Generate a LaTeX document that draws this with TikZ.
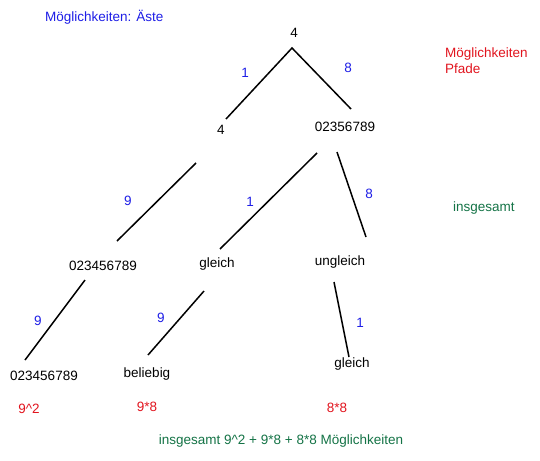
\documentclass[tikz,border=0pt]{standalone}
\usepackage{fontspec}
\setmainfont{Liberation Sans}
\definecolor{cblue}{RGB}{30,30,230}
\definecolor{cred}{RGB}{225,20,30}
\definecolor{cgreen}{RGB}{20,115,70}
\begin{document}
\begin{tikzpicture}[x=1pt,y=-1pt,
  every node/.style={inner sep=0pt,font=\fontsize{13.5}{16}\selectfont},
  lbl/.style={text=black},
  num/.style={text=cblue},
  res/.style={text=cred},
  tot/.style={text=cgreen},
  branch/.style={draw=black,line width=1.5pt}]
\useasboundingbox (0,0) rectangle (540,460);
% titles
\node[num,anchor=west] (tA) at (45,17) {Möglichkeiten: Äste};
\node[res,anchor=west,align=left] (tP) at (445,61) {Möglichkeiten\\Pfade};
\node[tot,anchor=west] (tI) at (453,208) {insgesamt};
% tree labels
\node[lbl] (r) at (294,33) {4};
\node[lbl] (a) at (221,130) {4};
\node[lbl] (b) at (345,127) {02356789};
\node[lbl] (c) at (103,266) {023456789};
\node[lbl] (d) at (217,264) {gleich};
\node[lbl] (e) at (340,262) {ungleich};
\node[lbl] (f) at (44,376) {023456789};
\node[lbl] (g) at (147,374) {beliebig};
\node[lbl] (h) at (352,364) {gleich};
% branch endpoints
\coordinate (r0) at (292,48);
\coordinate (a1) at (226,119);
\coordinate (b1) at (351,109);
\coordinate (a0) at (196,163);
\coordinate (c1) at (117,241);
\coordinate (b0) at (317,153);
\coordinate (d1) at (220,249);
\coordinate (b2) at (337,152);
\coordinate (e1) at (366,237);
\coordinate (c0) at (85,280);
\coordinate (f1) at (25,360);
\coordinate (d0) at (204,291);
\coordinate (g1) at (148,355);
\coordinate (e0) at (334,282);
\coordinate (h1) at (349,357);
\draw[branch] (a1) -- (r0) -- (b1);
\draw[branch] (a0) -- (c1);
\draw[branch] (b0) -- (d1);
\draw[branch] (b2) -- (e1);
\draw[branch] (c0) -- (f1);
\draw[branch] (d0) -- (g1);
\draw[branch] (e0) -- (h1);
% branch counts
\node[num] (n1) at (245,73) {1};
\node[num] (n2) at (348,68) {8};
\node[num] (n3) at (128,201) {9};
\node[num] (n4) at (250,202) {1};
\node[num] (n5) at (369,194) {8};
\node[num] (n6) at (38,321) {9};
\node[num] (n7) at (161,318) {9};
\node[num] (n8) at (360,323) {1};
% path results
\node[res] (p1) at (29,409) {9\textasciicircum 2};
\node[res] (p2) at (147,407) {9*8};
\node[res] (p3) at (337,408) {8*8};
\node[tot] (total) at (281,441) {insgesamt 9\textasciicircum 2 + 9*8 + 8*8 Möglichkeiten};
\end{tikzpicture}
\end{document}
